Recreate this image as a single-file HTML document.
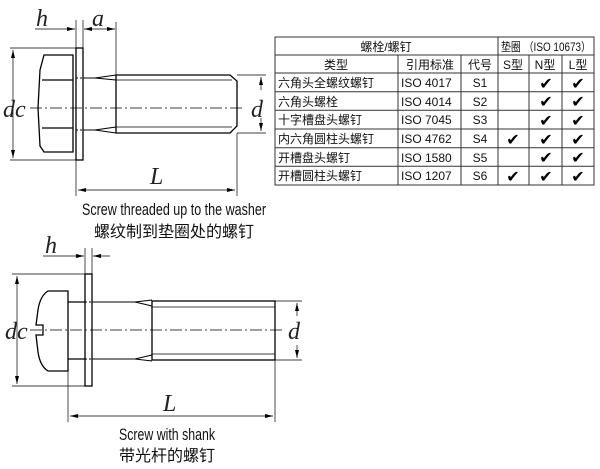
<!DOCTYPE html>
<html><head><meta charset="utf-8"><style>
html,body{margin:0;padding:0;background:#fff;width:600px;height:469px;overflow:hidden}
svg{display:block}
.cjk{font-family:"Liberation Sans","Noto Sans CJK SC",sans-serif}
</style></head><body>
<svg width="600" height="469" viewBox="0 0 600 469" xmlns="http://www.w3.org/2000/svg">
<defs>
<marker id="ar" markerWidth="8" markerHeight="6" refX="8" refY="3" orient="auto-start-reverse" markerUnits="userSpaceOnUse">
<path d="M0,1 L8,3 L0,5 Z" fill="#000"/></marker>
</defs>
<g stroke="#000" fill="none" stroke-width="1">
<line x1="10" y1="48" x2="77" y2="48" stroke-width="0.7"/>
<line x1="10" y1="160" x2="77" y2="160" stroke-width="0.7"/>
<line x1="13" y1="50" x2="13" y2="158" stroke-width="0.7" marker-start="url(#ar)" marker-end="url(#ar)"/>
<path d="M73,55 L44,55 L40,70 L38,108 L40,146 L44,152 L73,152 Z" stroke-width="1.3"/>
<line x1="42" y1="80" x2="73" y2="80" stroke-width="1.2"/>
<line x1="42" y1="128" x2="73" y2="128" stroke-width="1.2"/>
<rect x="76" y="48" width="7" height="112" stroke-width="1.3"/>
<line x1="76" y1="78" x2="83" y2="78" stroke-dasharray="2,2"/>
<line x1="76" y1="130" x2="83" y2="130" stroke-dasharray="2,2"/>
<path d="M83,78 L95,78 L116,75 M83,130 L95,130 L116,133 M95,78 L116,80 M95,130 L116,127" stroke-width="1.1"/>
<path d="M116,75 L230,75 L237,81 L237,126 L230,133 L116,133 Z" stroke-width="1.3"/>
<line x1="116" y1="80" x2="232" y2="80" stroke-width="0.8"/>
<line x1="116" y1="127" x2="232" y2="127" stroke-width="0.8"/>
<line x1="30" y1="108" x2="245" y2="108" stroke-width="0.7" stroke-dasharray="12,3,2,3"/>
<line x1="237" y1="75" x2="266" y2="75" stroke-width="0.7"/>
<line x1="237" y1="133" x2="266" y2="133" stroke-width="0.7"/>
<line x1="261" y1="77" x2="261" y2="90" stroke-width="0.7" marker-start="url(#ar)"/>
<line x1="261" y1="118" x2="261" y2="131" stroke-width="0.7" marker-end="url(#ar)"/>
<line x1="76" y1="20" x2="76" y2="48" stroke-width="0.7"/>
<line x1="83" y1="20" x2="83" y2="48" stroke-width="0.7"/>
<line x1="116" y1="22" x2="116" y2="75" stroke-width="0.7"/>
<line x1="35" y1="29" x2="75" y2="29" stroke-width="0.7" marker-end="url(#ar)"/>
<line x1="84" y1="29" x2="115" y2="29" stroke-width="0.7" marker-start="url(#ar)" marker-end="url(#ar)"/>
<line x1="76" y1="160" x2="76" y2="196" stroke-width="0.7"/>
<line x1="237" y1="133" x2="237" y2="196" stroke-width="0.7"/>
<line x1="78" y1="190" x2="235" y2="190" stroke-width="0.7" marker-start="url(#ar)" marker-end="url(#ar)"/>

<line x1="12" y1="274" x2="85" y2="274" stroke-width="0.7"/>
<line x1="12" y1="386" x2="85" y2="386" stroke-width="0.7"/>
<line x1="17" y1="276" x2="17" y2="384" stroke-width="0.7" marker-start="url(#ar)" marker-end="url(#ar)"/>
<path d="M68,291 L48,291 Q40,296 38,310 L36,325 L43,325 L43,335 L36,335 L38,352 Q40,366 48,371 L68,371 Z" stroke-width="1.3"/>
<rect x="85" y="274" width="7" height="112" stroke-width="1.3"/>
<line x1="68" y1="302" x2="85" y2="302" stroke-width="1.2"/>
<line x1="68" y1="359" x2="85" y2="359" stroke-width="1.2"/>
<line x1="85" y1="302" x2="92" y2="302" stroke-dasharray="2,2"/>
<line x1="85" y1="359" x2="92" y2="359" stroke-dasharray="2,2"/>
<path d="M92,302 L135,302 L152,300 M92,359 L135,359 L152,361 M135,302 L152,306 M135,359 L152,355" stroke-width="1.1"/>
<rect x="152" y="301" width="123" height="59" stroke-width="1.3"/>
<line x1="152" y1="307" x2="275" y2="307" stroke-width="0.8"/>
<line x1="152" y1="354" x2="275" y2="354" stroke-width="0.8"/>
<line x1="30" y1="330" x2="285" y2="330" stroke-width="0.7" stroke-dasharray="12,3,2,3"/>
<line x1="275" y1="301" x2="302" y2="301" stroke-width="0.7"/>
<line x1="275" y1="360" x2="302" y2="360" stroke-width="0.7"/>
<line x1="297" y1="303" x2="297" y2="316" stroke-width="0.7" marker-start="url(#ar)"/>
<line x1="297" y1="345" x2="297" y2="358" stroke-width="0.7" marker-end="url(#ar)"/>
<line x1="85" y1="248" x2="85" y2="274" stroke-width="0.7"/>
<line x1="92" y1="248" x2="92" y2="274" stroke-width="0.7"/>
<line x1="43" y1="256" x2="84" y2="256" stroke-width="0.7" marker-end="url(#ar)"/>
<line x1="93" y1="256" x2="110" y2="256" stroke-width="0.7" marker-start="url(#ar)"/>
<line x1="68" y1="371" x2="68" y2="422" stroke-width="0.7"/>
<line x1="275" y1="360" x2="275" y2="422" stroke-width="0.7"/>
<line x1="70" y1="416" x2="273" y2="416" stroke-width="0.7" marker-start="url(#ar)" marker-end="url(#ar)"/>
</g>

<g font-family="Liberation Serif,serif" font-style="italic" font-size="24" fill="#222">
<text x="36" y="26">h</text>
<text x="92" y="26">a</text>
<text x="3" y="117">dc</text>
<text x="251" y="117">d</text>
<text x="150" y="184">L</text>
<text x="45" y="253">h</text>
<text x="5" y="339">dc</text>
<text x="288" y="339">d</text>
<text x="163" y="411">L</text>
</g>
<g class="cjk" font-size="17" fill="#111" text-anchor="middle">
<text x="174" y="215" textLength="184" lengthAdjust="spacingAndGlyphs">Screw threaded up to the washer</text>
<text x="174" y="237" font-size="16">螺纹制到垫圈处的螺钉</text>
<text x="167" y="440" textLength="96" lengthAdjust="spacingAndGlyphs">Screw with shank</text>
<text x="167" y="461" font-size="16">带光杆的螺钉</text>
</g>

<g stroke="#333" stroke-width="1" fill="none">
<rect x="275" y="37" width="319" height="148"/>
<line x1="275" y1="55" x2="594" y2="55"/>
<line x1="275" y1="73" x2="594" y2="73"/>
<line x1="275" y1="91.7" x2="594" y2="91.7"/>
<line x1="275" y1="110.3" x2="594" y2="110.3"/>
<line x1="275" y1="129" x2="594" y2="129"/>
<line x1="275" y1="147.7" x2="594" y2="147.7"/>
<line x1="275" y1="166.3" x2="594" y2="166.3"/>
<line x1="398" y1="55" x2="398" y2="185"/>
<line x1="461" y1="55" x2="461" y2="185"/>
<line x1="498" y1="37" x2="498" y2="185"/>
<line x1="529" y1="55" x2="529" y2="185"/>
<line x1="562" y1="55" x2="562" y2="185"/>
</g>
<g class="cjk" font-size="12" fill="#111">
<text x="386" y="51" text-anchor="middle">螺栓/螺钉</text>
<text x="501" y="51" textLength="90" lengthAdjust="spacingAndGlyphs">垫圈 （ISO 10673）</text>
<g text-anchor="middle">
<text x="336" y="69">类型</text><text x="430" y="69">引用标准</text><text x="480" y="69">代号</text>
<text x="513" y="69">S型</text><text x="545" y="69">N型</text><text x="578" y="69">L型</text>
<text x="480" y="87">S1</text><text x="480" y="106">S2</text><text x="480" y="124">S3</text>
<text x="480" y="143">S4</text><text x="480" y="162">S5</text><text x="480" y="180">S6</text>
</g>
<text x="278" y="87">六角头全螺纹螺钉</text><text x="401" y="87">ISO 4017</text>
<text x="278" y="106">六角头螺栓</text><text x="401" y="106">ISO 4014</text>
<text x="278" y="124">十字槽盘头螺钉</text><text x="401" y="124">ISO 7045</text>
<text x="278" y="143">内六角圆柱头螺钉</text><text x="401" y="143">ISO 4762</text>
<text x="278" y="162">开槽盘头螺钉</text><text x="401" y="162">ISO 1580</text>
<text x="278" y="180">开槽圆柱头螺钉</text><text x="401" y="180">ISO 1207</text>
</g>
<g font-family="DejaVu Sans,sans-serif" font-size="16" font-weight="bold" fill="#000" text-anchor="middle">
<text x="546" y="89">✔</text><text x="578" y="89">✔</text>
<text x="546" y="107">✔</text><text x="578" y="107">✔</text>
<text x="546" y="126">✔</text><text x="578" y="126">✔</text>
<text x="513" y="145">✔</text><text x="546" y="145">✔</text><text x="578" y="145">✔</text>
<text x="546" y="163">✔</text><text x="578" y="163">✔</text>
<text x="513" y="182">✔</text><text x="546" y="182">✔</text><text x="578" y="182">✔</text>
</g>
</svg>
</body></html>
